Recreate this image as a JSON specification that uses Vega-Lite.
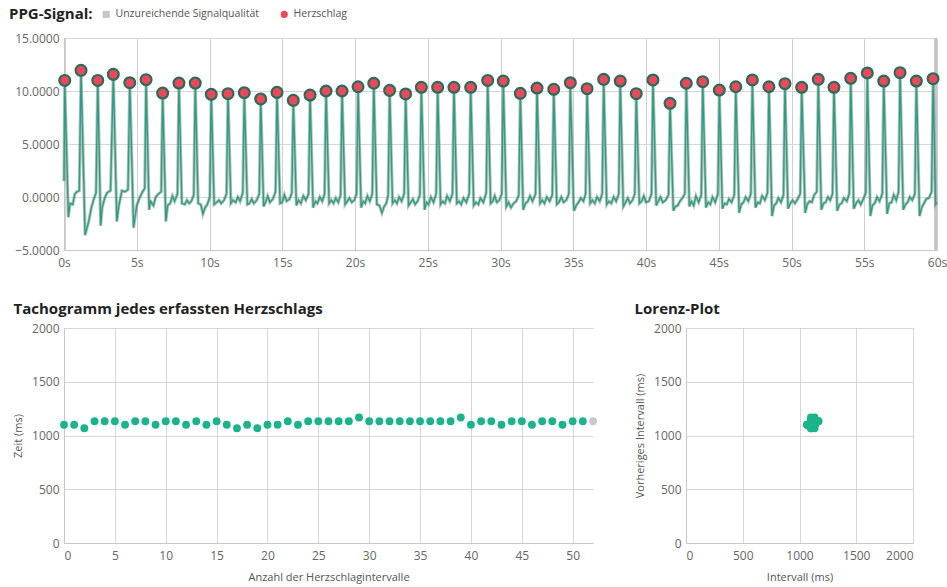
{
  "$schema": "https://vega.github.io/schema/vega-lite/v6.json",
  "padding": {"left": 9, "top": 9, "right": 4, "bottom": 4},
  "background": "white",
  "config": {
    "font": "Open Sans",
    "view": {"stroke": null},
    "axis": {"labelColor": "#666", "labelFontSize": 12, "gridColor": "#d6d6d6", "domainColor": "#c8c8c8", "ticks": false, "labelPadding": 4, "titleColor": "#555", "titleFontSize": 11, "titleFontWeight": "normal"},
    "title": {"fontSize": 15, "fontWeight": "bold", "color": "#222", "anchor": "start", "frame": "bounds", "offset": 5}
  },
  "datasets": {
    "ppg": [
      {"t":0,"v":1.5},
      {"t":0.05,"v":11.0},{"t":0.3,"v":-1.9},{"t":0.42,"v":-0.6},{"t":0.6,"v":-0.7},{"t":0.75,"v":0.3},{"t":0.9,"v":0.5},{"t":1.05,"v":0.6},
      {"t":1.17,"v":11.95},{"t":1.45,"v":-3.6},{"t":1.7,"v":-2.3},{"t":1.88,"v":-1.0},{"t":2.05,"v":-0.2},{"t":2.2,"v":0.4},
      {"t":2.32,"v":11.0},{"t":2.52,"v":-2.7},{"t":2.62,"v":-1.0},{"t":2.8,"v":-0.1},{"t":2.96,"v":0.4},{"t":3.2,"v":0.6},
      {"t":3.39,"v":11.57},{"t":3.63,"v":-2.3},{"t":3.76,"v":-0.9},{"t":3.98,"v":0.6},{"t":4.2,"v":0.5},{"t":4.4,"v":0.7},
      {"t":4.52,"v":10.78},{"t":4.78,"v":-2.9},{"t":5.0,"v":-0.8},{"t":5.22,"v":0.0},{"t":5.4,"v":0.5},{"t":5.55,"v":0.8},
      {"t":5.64,"v":11.07},{"t":5.85,"v":-1.2},{"t":5.95,"v":-0.4},{"t":6.15,"v":-0.8},{"t":6.3,"v":0.0},{"t":6.5,"v":0.3},{"t":6.68,"v":0.5},
      {"t":6.78,"v":9.81},{"t":7.0,"v":-2.3},{"t":7.12,"v":-0.8},{"t":7.3,"v":-0.6},{"t":7.45,"v":0.1},{"t":7.6,"v":-0.4},{"t":7.8,"v":0.3},
      {"t":7.9,"v":10.75},{"t":8.1,"v":-0.6},{"t":8.3,"v":-0.7},{"t":8.45,"v":-0.3},{"t":8.6,"v":-0.6},{"t":8.75,"v":-0.4},{"t":8.92,"v":0.2},
      {"t":9.02,"v":10.75},{"t":9.22,"v":-0.6},{"t":9.4,"v":-0.7},{"t":9.55,"v":-1.6},{"t":9.7,"v":-1.0},{"t":9.85,"v":-0.7},{"t":10.02,"v":0.0},
      {"t":10.12,"v":9.69},{"t":10.32,"v":-0.7},{"t":10.5,"v":-0.5},{"t":10.65,"v":-0.3},{"t":10.8,"v":-0.6},{"t":11.0,"v":-0.3},{"t":11.17,"v":0.3},
      {"t":11.27,"v":9.75},{"t":11.47,"v":-0.6},{"t":11.62,"v":-0.3},{"t":11.8,"v":-0.5},{"t":11.95,"v":0.0},{"t":12.1,"v":-0.4},{"t":12.29,"v":0.4},
      {"t":12.39,"v":9.84},{"t":12.6,"v":-0.7},{"t":12.75,"v":-0.6},{"t":12.9,"v":-0.2},{"t":13.05,"v":-0.6},{"t":13.25,"v":-0.3},{"t":13.42,"v":0.3},
      {"t":13.52,"v":9.25},{"t":13.72,"v":-0.9},{"t":13.88,"v":-0.4},{"t":14.0,"v":0.1},{"t":14.15,"v":-0.5},{"t":14.35,"v":-0.2},{"t":14.54,"v":0.5},
      {"t":14.64,"v":9.87},{"t":14.85,"v":-0.6},{"t":15.0,"v":-0.5},{"t":15.15,"v":0.2},{"t":15.3,"v":-0.4},{"t":15.5,"v":-0.2},{"t":15.66,"v":0.4},
      {"t":15.76,"v":9.12},{"t":15.97,"v":-0.8},{"t":16.12,"v":-0.3},{"t":16.28,"v":-0.6},{"t":16.45,"v":0.1},{"t":16.62,"v":-0.3},{"t":16.81,"v":0.3},
      {"t":16.91,"v":9.62},{"t":17.12,"v":-1.0},{"t":17.28,"v":-0.4},{"t":17.42,"v":-0.6},{"t":17.58,"v":0.0},{"t":17.75,"v":-0.4},{"t":17.91,"v":0.3},
      {"t":18.01,"v":10.0},{"t":18.22,"v":-0.6},{"t":18.38,"v":-0.3},{"t":18.52,"v":-0.6},{"t":18.68,"v":-0.1},{"t":18.85,"v":-0.5},{"t":19.01,"v":0.2},
      {"t":19.11,"v":10.0},{"t":19.32,"v":-0.7},{"t":19.47,"v":-0.4},{"t":19.62,"v":-0.1},{"t":19.78,"v":-0.5},{"t":19.95,"v":-0.3},{"t":20.11,"v":0.3},
      {"t":20.21,"v":10.4},{"t":20.42,"v":-1.0},{"t":20.56,"v":-0.4},{"t":20.7,"v":-0.6},{"t":20.85,"v":0.1},{"t":21.02,"v":-0.4},{"t":21.19,"v":0.3},
      {"t":21.29,"v":10.73},{"t":21.5,"v":-0.7},{"t":21.68,"v":-0.8},{"t":21.85,"v":-1.5},{"t":22.0,"v":-0.9},{"t":22.15,"v":-0.6},{"t":22.28,"v":0.2},
      {"t":22.38,"v":10.06},{"t":22.58,"v":-0.6},{"t":22.73,"v":-0.3},{"t":22.88,"v":-0.6},{"t":23.03,"v":0.0},{"t":23.2,"v":-0.4},{"t":23.38,"v":0.3},
      {"t":23.48,"v":9.72},{"t":23.68,"v":-0.8},{"t":23.83,"v":-0.5},{"t":23.98,"v":-0.2},{"t":24.13,"v":-0.7},{"t":24.3,"v":-0.4},{"t":24.46,"v":0.2},
      {"t":24.56,"v":10.35},{"t":24.78,"v":-1.2},{"t":24.92,"v":-0.5},{"t":25.06,"v":-0.7},{"t":25.22,"v":0.0},{"t":25.4,"v":-0.5},{"t":25.58,"v":0.3},
      {"t":25.68,"v":10.35},{"t":25.88,"v":-0.7},{"t":26.03,"v":-0.4},{"t":26.18,"v":-0.6},{"t":26.33,"v":0.1},{"t":26.52,"v":-0.4},{"t":26.7,"v":0.3},
      {"t":26.8,"v":10.35},{"t":27.0,"v":-0.6},{"t":27.15,"v":-0.4},{"t":27.3,"v":-0.7},{"t":27.46,"v":-0.1},{"t":27.65,"v":-0.5},{"t":27.85,"v":0.3},
      {"t":27.95,"v":10.35},{"t":28.16,"v":-0.8},{"t":28.32,"v":-0.5},{"t":28.48,"v":-0.7},{"t":28.62,"v":-0.1},{"t":28.82,"v":-0.5},{"t":29.02,"v":0.4},
      {"t":29.12,"v":11.0},{"t":29.32,"v":-0.6},{"t":29.47,"v":-0.4},{"t":29.6,"v":0.1},{"t":29.75,"v":-0.5},{"t":29.92,"v":-0.3},{"t":30.09,"v":0.3},
      {"t":30.19,"v":10.94},{"t":30.4,"v":-0.9},{"t":30.56,"v":-0.5},{"t":30.72,"v":-1.0},{"t":30.9,"v":-0.6},{"t":31.08,"v":-0.4},{"t":31.26,"v":0.2},
      {"t":31.36,"v":9.78},{"t":31.56,"v":-1.2},{"t":31.72,"v":-0.6},{"t":31.88,"v":-0.4},{"t":32.03,"v":0.1},{"t":32.2,"v":-0.4},{"t":32.41,"v":0.3},
      {"t":32.51,"v":10.28},{"t":32.72,"v":-0.6},{"t":32.88,"v":-0.3},{"t":33.02,"v":-0.6},{"t":33.18,"v":0.0},{"t":33.38,"v":-0.4},{"t":33.56,"v":0.2},
      {"t":33.66,"v":10.16},{"t":33.87,"v":-0.7},{"t":34.02,"v":-0.5},{"t":34.18,"v":0.0},{"t":34.34,"v":-0.5},{"t":34.52,"v":-0.3},{"t":34.7,"v":0.3},
      {"t":34.8,"v":10.78},{"t":35.02,"v":-0.6},{"t":35.06,"v":-1.3},{"t":35.2,"v":-0.8},{"t":35.36,"v":-0.5},{"t":35.52,"v":-0.1},{"t":35.7,"v":-0.4},{"t":35.85,"v":0.3},
      {"t":35.95,"v":10.22},{"t":36.16,"v":-0.6},{"t":36.32,"v":-0.3},{"t":36.48,"v":-0.6},{"t":36.63,"v":0.0},{"t":36.82,"v":-0.4},{"t":36.99,"v":0.3},
      {"t":37.09,"v":11.1},{"t":37.3,"v":-0.7},{"t":37.46,"v":-0.4},{"t":37.62,"v":-0.6},{"t":37.78,"v":0.0},{"t":37.95,"v":-0.4},{"t":38.13,"v":0.3},
      {"t":38.23,"v":10.94},{"t":38.44,"v":-0.9},{"t":38.6,"v":-0.5},{"t":38.75,"v":-0.1},{"t":38.9,"v":-0.6},{"t":39.07,"v":-0.3},{"t":39.23,"v":0.3},
      {"t":39.33,"v":9.75},{"t":39.54,"v":-0.6},{"t":39.7,"v":-0.4},{"t":39.85,"v":0.1},{"t":40.0,"v":-0.5},{"t":40.2,"v":-0.4},{"t":40.38,"v":0.3},
      {"t":40.48,"v":11.04},{"t":40.7,"v":-0.8},{"t":40.85,"v":-0.4},{"t":41.0,"v":0.0},{"t":41.15,"v":-0.5},{"t":41.35,"v":-0.3},{"t":41.55,"v":0.2},
      {"t":41.65,"v":8.84},{"t":41.88,"v":-1.3},{"t":42.02,"v":-0.9},{"t":42.18,"v":-0.8},{"t":42.33,"v":-0.4},{"t":42.5,"v":-0.1},{"t":42.67,"v":0.3},
      {"t":42.77,"v":10.73},{"t":42.98,"v":-0.9},{"t":43.12,"v":-0.4},{"t":43.28,"v":-0.8},{"t":43.43,"v":0.1},{"t":43.62,"v":-0.5},{"t":43.8,"v":0.2},
      {"t":43.9,"v":10.88},{"t":44.12,"v":-1.0},{"t":44.27,"v":-0.5},{"t":44.42,"v":-0.7},{"t":44.57,"v":0.0},{"t":44.76,"v":-0.5},{"t":44.94,"v":0.3},
      {"t":45.04,"v":10.09},{"t":45.25,"v":-1.1},{"t":45.4,"v":-0.6},{"t":45.55,"v":-0.7},{"t":45.7,"v":-0.2},{"t":45.88,"v":-0.5},{"t":46.07,"v":0.2},
      {"t":46.17,"v":10.4},{"t":46.4,"v":-1.5},{"t":46.55,"v":-0.7},{"t":46.7,"v":-0.5},{"t":46.85,"v":0.0},{"t":47.03,"v":-0.4},{"t":47.21,"v":0.3},
      {"t":47.31,"v":11.04},{"t":47.52,"v":-1.0},{"t":47.68,"v":-0.5},{"t":47.83,"v":-0.6},{"t":47.98,"v":0.1},{"t":48.17,"v":-0.3},{"t":48.35,"v":0.4},
      {"t":48.45,"v":10.4},{"t":48.66,"v":-1.8},{"t":48.8,"v":-0.8},{"t":48.95,"v":-0.6},{"t":49.1,"v":-0.1},{"t":49.28,"v":-0.5},{"t":49.45,"v":0.2},
      {"t":49.55,"v":10.69},{"t":49.76,"v":-1.1},{"t":49.92,"v":-0.6},{"t":50.08,"v":-0.3},{"t":50.24,"v":-0.6},{"t":50.42,"v":-0.2},{"t":50.6,"v":0.3},
      {"t":50.7,"v":10.35},{"t":50.94,"v":-1.5},{"t":51.08,"v":-0.7},{"t":51.24,"v":-0.4},{"t":51.4,"v":-0.5},{"t":51.56,"v":0.2},{"t":51.74,"v":0.5},
      {"t":51.84,"v":11.1},{"t":52.05,"v":-1.2},{"t":52.2,"v":-0.6},{"t":52.35,"v":-0.5},{"t":52.5,"v":0.0},{"t":52.66,"v":-0.3},{"t":52.82,"v":0.3},
      {"t":52.92,"v":10.35},{"t":53.14,"v":-1.3},{"t":53.3,"v":-0.7},{"t":53.45,"v":-0.6},{"t":53.6,"v":-0.1},{"t":53.8,"v":-0.4},{"t":53.97,"v":0.3},
      {"t":54.07,"v":11.2},{"t":54.28,"v":-1.1},{"t":54.44,"v":-0.6},{"t":54.6,"v":-0.3},{"t":54.76,"v":-0.7},{"t":54.93,"v":-0.2},{"t":55.11,"v":0.4},
      {"t":55.21,"v":11.7},{"t":55.42,"v":-1.8},{"t":55.56,"v":-0.8},{"t":55.72,"v":-0.6},{"t":55.88,"v":0.0},{"t":56.05,"v":-0.4},{"t":56.24,"v":0.3},
      {"t":56.34,"v":10.94},{"t":56.57,"v":-1.6},{"t":56.72,"v":-0.6},{"t":56.88,"v":-0.5},{"t":57.03,"v":0.2},{"t":57.2,"v":-0.3},{"t":57.36,"v":0.5},
      {"t":57.46,"v":11.73},{"t":57.68,"v":-1.2},{"t":57.83,"v":-0.7},{"t":57.98,"v":-0.5},{"t":58.13,"v":0.0},{"t":58.3,"v":-0.3},{"t":58.48,"v":0.3},
      {"t":58.58,"v":10.94},{"t":58.8,"v":-1.8},{"t":58.95,"v":-1.0},{"t":59.1,"v":-0.6},{"t":59.26,"v":-0.2},{"t":59.45,"v":-0.1},{"t":59.63,"v":0.5},
      {"t":59.73,"v":11.16},{"t":59.9,"v":-0.7},{"t":60.0,"v":-0.5}
    ],
    "beats": [
      {"t":0.05,"v":11.0},{"t":1.17,"v":11.95},{"t":2.32,"v":11.0},{"t":3.39,"v":11.57},{"t":4.52,"v":10.78},{"t":5.64,"v":11.07},{"t":6.78,"v":9.81},{"t":7.9,"v":10.75},{"t":9.02,"v":10.75},{"t":10.12,"v":9.69},
      {"t":11.27,"v":9.75},{"t":12.39,"v":9.84},{"t":13.52,"v":9.25},{"t":14.64,"v":9.87},{"t":15.76,"v":9.12},{"t":16.91,"v":9.62},{"t":18.01,"v":10.0},{"t":19.11,"v":10.0},{"t":20.21,"v":10.4},{"t":21.29,"v":10.73},
      {"t":22.38,"v":10.06},{"t":23.48,"v":9.72},{"t":24.56,"v":10.35},{"t":25.68,"v":10.35},{"t":26.8,"v":10.35},{"t":27.95,"v":10.35},{"t":29.12,"v":11.0},{"t":30.19,"v":10.94},{"t":31.36,"v":9.78},{"t":32.51,"v":10.28},
      {"t":33.66,"v":10.16},{"t":34.8,"v":10.78},{"t":35.95,"v":10.22},{"t":37.09,"v":11.1},{"t":38.23,"v":10.94},{"t":39.33,"v":9.75},{"t":40.48,"v":11.04},{"t":41.65,"v":8.84},{"t":42.77,"v":10.73},{"t":43.9,"v":10.88},
      {"t":45.04,"v":10.09},{"t":46.17,"v":10.4},{"t":47.31,"v":11.04},{"t":48.45,"v":10.4},{"t":49.55,"v":10.69},{"t":50.7,"v":10.35},{"t":51.84,"v":11.1},{"t":52.92,"v":10.35},{"t":54.07,"v":11.2},{"t":55.21,"v":11.7},
      {"t":56.34,"v":10.94},{"t":57.46,"v":11.73},{"t":58.58,"v":10.94},{"t":59.73,"v":11.16}
    ],
    "bad": [
      {"start":0,"end":0.12},{"start":59.8,"end":60}
    ],
    "tacho": [
      {"n":0,"ms":1100,"status":"ok"},{"n":1,"ms":1100,"status":"ok"},{"n":2,"ms":1067,"status":"ok"},{"n":3,"ms":1133,"status":"ok"},{"n":4,"ms":1133,"status":"ok"},
      {"n":5,"ms":1133,"status":"ok"},{"n":6,"ms":1100,"status":"ok"},{"n":7,"ms":1133,"status":"ok"},{"n":8,"ms":1133,"status":"ok"},{"n":9,"ms":1100,"status":"ok"},
      {"n":10,"ms":1133,"status":"ok"},{"n":11,"ms":1133,"status":"ok"},{"n":12,"ms":1100,"status":"ok"},{"n":13,"ms":1133,"status":"ok"},{"n":14,"ms":1100,"status":"ok"},
      {"n":15,"ms":1133,"status":"ok"},{"n":16,"ms":1100,"status":"ok"},{"n":17,"ms":1067,"status":"ok"},{"n":18,"ms":1100,"status":"ok"},{"n":19,"ms":1067,"status":"ok"},
      {"n":20,"ms":1100,"status":"ok"},{"n":21,"ms":1100,"status":"ok"},{"n":22,"ms":1133,"status":"ok"},{"n":23,"ms":1100,"status":"ok"},{"n":24,"ms":1133,"status":"ok"},
      {"n":25,"ms":1133,"status":"ok"},{"n":26,"ms":1133,"status":"ok"},{"n":27,"ms":1133,"status":"ok"},{"n":28,"ms":1133,"status":"ok"},{"n":29,"ms":1167,"status":"ok"},
      {"n":30,"ms":1133,"status":"ok"},{"n":31,"ms":1133,"status":"ok"},{"n":32,"ms":1133,"status":"ok"},{"n":33,"ms":1133,"status":"ok"},{"n":34,"ms":1133,"status":"ok"},
      {"n":35,"ms":1133,"status":"ok"},{"n":36,"ms":1133,"status":"ok"},{"n":37,"ms":1133,"status":"ok"},{"n":38,"ms":1133,"status":"ok"},{"n":39,"ms":1167,"status":"ok"},
      {"n":40,"ms":1100,"status":"ok"},{"n":41,"ms":1133,"status":"ok"},{"n":42,"ms":1133,"status":"ok"},{"n":43,"ms":1100,"status":"ok"},{"n":44,"ms":1133,"status":"ok"},
      {"n":45,"ms":1133,"status":"ok"},{"n":46,"ms":1100,"status":"ok"},{"n":47,"ms":1133,"status":"ok"},{"n":48,"ms":1133,"status":"ok"},{"n":49,"ms":1100,"status":"ok"},
      {"n":50,"ms":1133,"status":"ok"},{"n":51,"ms":1133,"status":"ok"},{"n":52,"ms":1133,"status":"unsicher"}
    ],
    "lorenz": [
      {"ivl":1100,"prev":1100},{"ivl":1067,"prev":1100},{"ivl":1133,"prev":1067},{"ivl":1133,"prev":1133},{"ivl":1133,"prev":1133},{"ivl":1100,"prev":1133},
      {"ivl":1133,"prev":1100},{"ivl":1133,"prev":1133},{"ivl":1100,"prev":1133},{"ivl":1133,"prev":1100},{"ivl":1133,"prev":1133},{"ivl":1100,"prev":1133},
      {"ivl":1133,"prev":1100},{"ivl":1100,"prev":1133},{"ivl":1133,"prev":1100},{"ivl":1100,"prev":1133},{"ivl":1067,"prev":1100},{"ivl":1100,"prev":1067},
      {"ivl":1067,"prev":1100},{"ivl":1100,"prev":1067},{"ivl":1100,"prev":1100},{"ivl":1133,"prev":1100},{"ivl":1100,"prev":1133},{"ivl":1133,"prev":1100},
      {"ivl":1133,"prev":1133},{"ivl":1133,"prev":1133},{"ivl":1133,"prev":1133},{"ivl":1133,"prev":1133},{"ivl":1167,"prev":1133},{"ivl":1133,"prev":1167},
      {"ivl":1133,"prev":1133},{"ivl":1133,"prev":1133},{"ivl":1133,"prev":1133},{"ivl":1133,"prev":1133},{"ivl":1133,"prev":1133},{"ivl":1133,"prev":1133},
      {"ivl":1133,"prev":1133},{"ivl":1133,"prev":1133},{"ivl":1167,"prev":1133},{"ivl":1100,"prev":1167},{"ivl":1133,"prev":1100},{"ivl":1133,"prev":1133},
      {"ivl":1100,"prev":1133},{"ivl":1133,"prev":1100},{"ivl":1133,"prev":1133},{"ivl":1100,"prev":1133},{"ivl":1133,"prev":1100},{"ivl":1133,"prev":1133},
      {"ivl":1100,"prev":1133},{"ivl":1133,"prev":1100},{"ivl":1133,"prev":1133}
    ]
  },
  "vconcat": [
    {
      "width": 873,
      "height": 212,
      "layer": [
        {
          "data": {"name": "bad"},
          "transform": [{"calculate": "'Unzureichende Signalqualität'", "as": "kind"}],
          "mark": {"type": "rect"},
          "encoding": {
            "x": {"field": "start", "type": "quantitative"},
            "x2": {"field": "end"},
            "color": {"field": "kind", "type": "nominal"}
          }
        },
        {
          "data": {"name": "ppg"},
          "mark": {"type": "line", "color": "#7d918a", "strokeWidth": 3.2, "opacity": 0.55, "interpolate": "linear"},
          "encoding": {
            "x": {"field": "t", "type": "quantitative"},
            "y": {"field": "v", "type": "quantitative"}
          }
        },
        {
          "data": {"name": "ppg"},
          "mark": {"type": "line", "color": "#2e9e80", "strokeWidth": 1.4, "interpolate": "linear"},
          "encoding": {
            "x": {"field": "t", "type": "quantitative"},
            "y": {"field": "v", "type": "quantitative"}
          }
        },
        {
          "data": {"name": "beats"},
          "mark": {"type": "point", "filled": true, "size": 170, "color": "#2b6b57", "opacity": 1, "shape": "circle"},
          "encoding": {
            "x": {"field": "t", "type": "quantitative"},
            "y": {"field": "v", "type": "quantitative"}
          }
        },
        {
          "data": {"name": "beats"},
          "transform": [{"calculate": "'Herzschlag'", "as": "kind"}],
          "mark": {"type": "point", "filled": true, "size": 75, "opacity": 1},
          "encoding": {
            "x": {"field": "t", "type": "quantitative", "scale": {"domain": [0, 60], "nice": false}, "axis": {"title": null, "values": [0,5,10,15,20,25,30,35,40,45,50,55,60], "labelExpr": "datum.value + 's'", "gridColor": "#cfcfcf", "labelFlush": false, "labelPadding": 7}},
            "y": {"field": "v", "type": "quantitative", "scale": {"domain": [-5, 15], "nice": false}, "axis": {"title": null, "values": [-5,0,5,10,15], "format": ".4f", "gridColor": "#d6d6d6", "labelPadding": 5}},
            "shape": {
              "field": "kind", "type": "nominal",
              "scale": {"domain": ["Unzureichende Signalqualität", "Herzschlag"], "range": ["square", "circle"]}
            },
            "color": {
              "field": "kind", "type": "nominal",
              "scale": {"domain": ["Unzureichende Signalqualität", "Herzschlag"], "range": ["#c6c6c6", "#e8495b"]},
              "legend": {
                "title": "PPG-Signal:",
                "orient": "none",
                "legendX": -55,
                "legendY": -29,
                "direction": "horizontal",
                "titleOrient": "left",
                "titleFontSize": 15,
                "titleFontWeight": "bold",
                "titleColor": "#222",
                "titlePadding": 8,
                "labelFontSize": 10.5,
                "labelColor": "#555",
                "symbolSize": 50,
                "symbolStrokeWidth": 0,
                "columnPadding": 20
              }
            }
          }
        }
      ]
    },
    {
      "hconcat": [
        {
          "title": {"text": "Tachogramm jedes erfassten Herzschlags", "dx": 1},
          "width": 529,
          "height": 215,
          "data": {"name": "tacho"},
          "mark": {"type": "circle", "size": 62, "opacity": 1},
          "encoding": {
            "x": {"field": "n", "type": "quantitative", "scale": {"domain": [0, 52], "nice": false}, "axis": {"title": "Anzahl der Herzschlagintervalle", "values": [0,5,10,15,20,25,30,35,40,45,50], "labelPadding": 7, "titlePadding": 10}},
            "y": {"field": "ms", "type": "quantitative", "scale": {"domain": [0, 2000], "nice": false}, "axis": {"title": "Zeit (ms)", "values": [0,500,1000,1500,2000], "format": "d", "labelPadding": 5, "titlePadding": 8}},
            "color": {"condition": {"test": "datum.status == 'unsicher'", "value": "#c8c8c8"}, "value": "#1db38a"}
          }
        },
        {
          "title": {"text": "Lorenz-Plot"},
          "width": 227,
          "height": 215,
          "data": {"name": "lorenz"},
          "mark": {"type": "circle", "size": 62, "opacity": 1, "color": "#1db38a"},
          "encoding": {
            "x": {"field": "ivl", "type": "quantitative", "scale": {"domain": [0, 2000], "nice": false}, "axis": {"title": "Intervall (ms)", "values": [0,500,1000,1500,2000], "format": "d", "labelPadding": 7, "titlePadding": 10}},
            "y": {"field": "prev", "type": "quantitative", "scale": {"domain": [0, 2000], "nice": false}, "axis": {"title": "Vorheriges Intervall (ms)", "values": [0,500,1000,1500,2000], "format": "d", "labelPadding": 5, "titlePadding": 8}}
          }
        }
      ],
      "spacing": 37
    }
  ],
  "spacing": 34
}
